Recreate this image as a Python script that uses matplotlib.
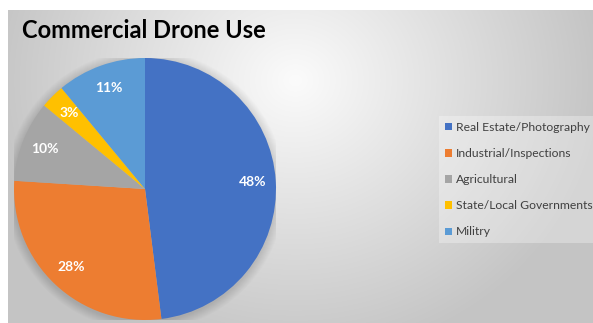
import numpy as np
import matplotlib
matplotlib.use("Agg")
import matplotlib.pyplot as plt
from matplotlib.patches import Patch, Circle

categories = ["Real Estate/Photography", "Industrial/Inspections", "Agricultural",
              "State/Local Governments", "Militry"]
values = [48, 28, 10, 3, 11]
colors = ["#4472C4", "#ED7D31", "#A5A5A5", "#FFC000", "#5B9BD5"]
title = "Commercial Drone Use"

W, H = 593, 323
fig = plt.figure(figsize=(W / 100, H / 100), dpi=100)
fig.patch.set_facecolor("white")

# background radial gradient (chart area)
bg = fig.add_axes([0, 0, 1, 1])
bg.set_axis_off()
yy, xx = np.mgrid[0:H, 0:W]
d = np.sqrt((xx - 295.0) ** 2 + ((yy - 80.0) * 1.1) ** 2)
v = np.clip(0.985 - 0.21 * (d / 300.0), 0.77, 1.0)
img = np.dstack([v, v, v])
img[:10, :, :] = 1.0
img[:, :8, :] = 1.0
bg.imshow(img, extent=[0, W, H, 0], interpolation="bilinear", aspect="auto")
bg.set_xlim(0, W)
bg.set_ylim(H, 0)

# pie axes
cx, cy, r = 145, 189, 131
ax = fig.add_axes([(cx - r) / W, (H - cy - r) / H, 2 * r / W, 2 * r / H])
ax.set_axis_off()
for i in range(10):
    ax.add_patch(Circle((0.0, -0.01), 1.0 + 0.007 * (i + 1), color="black",
                        alpha=0.012, lw=0, zorder=0))
wedges, texts, autotexts = ax.pie(
    values, colors=colors, startangle=90, counterclock=False,
    autopct=lambda p: f"{p:.0f}%", pctdistance=0.82, radius=1.0,
    wedgeprops=dict(linewidth=0), frame=False,
    textprops=dict(color="white", fontsize=10, fontweight="bold",
                   family=["Lato", "DejaVu Sans"]))
for w in wedges:
    w.set_zorder(2)
for t in autotexts:
    t.set_zorder(3)
ax.set_xlim(-1, 1)
ax.set_ylim(-1, 1)
ax.set_aspect("auto")

# title
fig.text(22 / W, 1 - 31 / H, title, fontsize=17, fontweight="bold",
         family=["Lato", "DejaVu Sans"], color="black", va="center", ha="left")

# legend
handles = [Patch(facecolor=c, edgecolor="none") for c in colors]
leg = fig.legend(handles, categories, loc="upper left",
                 bbox_to_anchor=(439 / W, 1 - 116 / H),
                 frameon=True, fancybox=False, fontsize=8.7,
                 handlelength=0.55, handleheight=0.55, handletextpad=0.35,
                 labelspacing=1.25, borderpad=0.5, borderaxespad=0)
leg.get_frame().set_facecolor("white")
leg.get_frame().set_alpha(0.3)
leg.get_frame().set_edgecolor("none")
for t in leg.get_texts():
    t.set_color("#404040")
    t.set_family(["Lato", "DejaVu Sans"])

fig.savefig("out.png", dpi=100)
